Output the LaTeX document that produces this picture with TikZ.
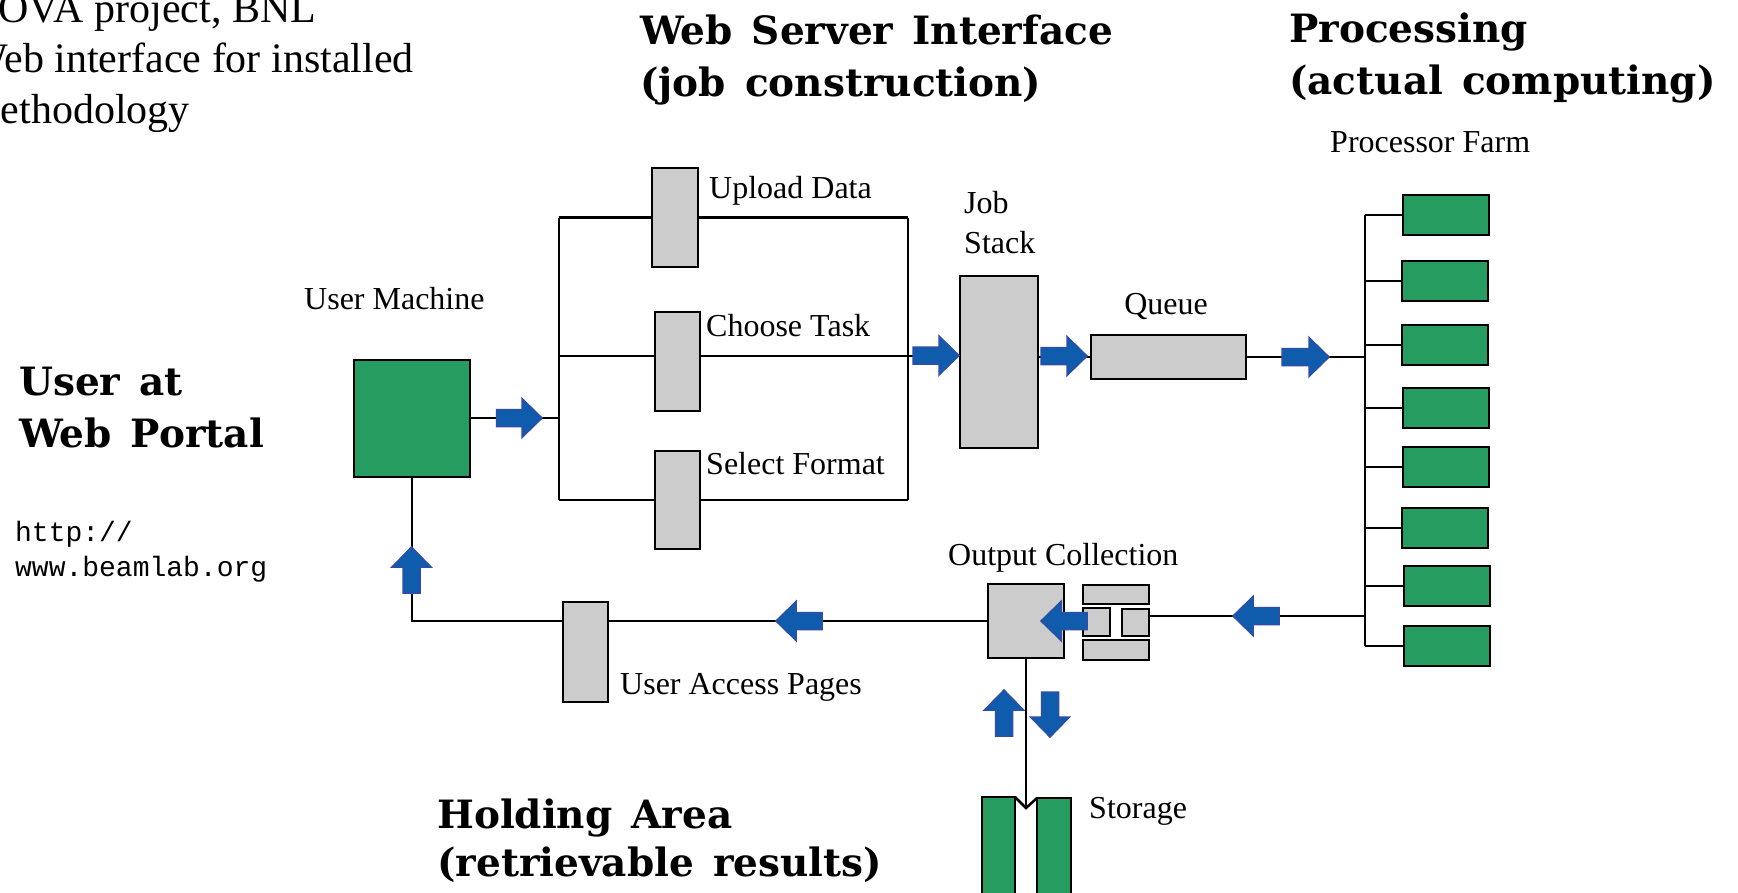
\documentclass[tikz,border=0pt]{standalone}
\usepackage{fontspec}
\setmainfont{Liberation Serif}
\newfontfamily\headfont{DejaVu Serif}[WordSpace=1.4]
\newfontfamily\mymono{Liberation Mono}
\definecolor{arblue}{HTML}{0E5CAB}
\definecolor{aredge}{HTML}{2E4EA8}
\definecolor{boxgreen}{HTML}{279C61}
\definecolor{boxgray}{HTML}{CCCCCC}
\tikzset{
  lbl/.style={inner sep=0, anchor=base west, font=\fontsize{32}{38}\selectfont},
  head/.style={inner sep=0, anchor=base west, font=\headfont\bfseries\fontsize{39}{47}\selectfont},
  toptxt/.style={inner sep=0, anchor=base west, font=\fontsize{42}{50}\selectfont},
  urltxt/.style={inner sep=0, anchor=base west, font=\mymono\fontsize{28}{34}\selectfont},
  graybox/.style={draw, fill=boxgray, line width=2.6, inner sep=0, outer sep=0},
  greenbox/.style={draw, fill=boxgreen, line width=2.6, inner sep=0, outer sep=0},
  conn/.style={line width=2.5},
  barrowst/.style={fill=arblue, draw=aredge, line width=1.5, line join=miter}
}
\newcommand\mkbox[6]{\node[#1, minimum width={(#4)-(#2)}, minimum height={(#5)-(#3)}] (#6) at ({((#2)+(#4))/2},{((#3)+(#5))/2}) {};}
\newcommand\hbarrow[3]{%
  \pgfmathsetmacro\hbhead{#2-20*sign(#2-#1)}%
  \draw[barrowst] (#1,#3-8.5) -- (\hbhead,#3-8.5) -- (\hbhead,#3-19.5) -- (#2,#3) -- (\hbhead,#3+19.5) -- (\hbhead,#3+8.5) -- (#1,#3+8.5) -- cycle;}
\newcommand\vbarrow[3]{%
  \pgfmathsetmacro\vbhead{#3-20*sign(#3-#2)}%
  \draw[barrowst] (#1-8.5,#2) -- (#1-8.5,\vbhead) -- (#1-19.5,\vbhead) -- (#1,#3) -- (#1+19.5,\vbhead) -- (#1+8.5,\vbhead) -- (#1+8.5,#2) -- cycle;}
\begin{document}
\begin{tikzpicture}[x=1pt,y=-1pt]
\useasboundingbox[fill=white] (0,0) rectangle (1738,892);

% ---- texts ----
\node[toptxt] (t1) at (-32,22) {NOVA project, BNL};
\node[toptxt] (t2) at (-32,72) {Web interface for installed};
\node[toptxt] (t3) at (-32,123) {methodology};

\node[head] (h1a) at (640,44) {Web Server Interface};
\node[head] (h1b) at (640,96) {(job construction)};
\node[head] (h2a) at (1289,42) {Processing};
\node[head] (h2b) at (1289,94) {(actual computing)};
\node[head] (h3a) at (19,395) {User at};
\node[head] (h3b) at (19,447) {Web Portal};
\node[head] (h4a) at (437,828) {Holding Area};
\node[head] (h4b) at (437,876) {(retrievable results)};

\node[urltxt] (u1) at (15,541) {http://};
\node[urltxt] (u2) at (15,576) {www.beamlab.org};

\node[lbl] (lUM) at (304,309) {User Machine};
\node[lbl] (lUD) at (709,198) {Upload Data};
\node[lbl] (lCT) at (706,336) {Choose Task};
\node[lbl] (lSF) at (706,474) {Select Format};
\node[lbl] (lJ1) at (964,213) {Job};
\node[lbl] (lJ2) at (964,253) {Stack};
\node[lbl, anchor=base] (lQ) at (1166,314) {Queue};
\node[lbl] (lPF) at (1330,152) {Processor Farm};
\node[lbl] (lOC) at (948,565) {Output Collection};
\node[lbl] (lUAP) at (620,694) {User Access Pages};
\node[lbl] (lST) at (1089,818) {Storage};

\coordinate (J) at (559,418);
\coordinate (R) at (908,356);
\coordinate (B) at (1365,357);
\coordinate (B2) at (1365,616);
\coordinate (SV) at (1026,808);

% ---- boxes ----
\mkbox{greenbox}{354}{360}{470}{477}{UM}
\mkbox{graybox}{960}{276}{1038}{448}{JS}
\mkbox{graybox}{1091}{335}{1246}{379}{Q}
\mkbox{greenbox}{1403}{195}{1489}{235}{F1}
\mkbox{greenbox}{1402}{261}{1488}{301}{F2}
\mkbox{greenbox}{1402}{325}{1488}{365}{F3}
\mkbox{greenbox}{1403}{388}{1489}{428}{F4}
\mkbox{greenbox}{1403}{447}{1489}{487}{F5}
\mkbox{greenbox}{1402}{508}{1488}{548}{F6}
\mkbox{greenbox}{1404}{566}{1490}{606}{F7}
\mkbox{greenbox}{1404}{626}{1490}{666}{F8}
\mkbox{graybox}{988}{584}{1064}{658}{OC}
\mkbox{graybox}{1083}{585}{1149}{604}{CTop}
\mkbox{graybox}{1083}{608}{1110}{636}{CML}
\mkbox{graybox}{1122}{609}{1149}{636}{CMR}
\mkbox{graybox}{1083}{640}{1149}{660}{CBot}
\mkbox{greenbox}{982}{797}{1015}{905}{SL}
\mkbox{greenbox}{1037}{798}{1071}{905}{SR}
% boxes sitting on the lines: geometry first (drawn after the lines)
\path (675,217.5) coordinate (UDc) (677.5,361.5) coordinate (CTc) (677.5,500) coordinate (SFc) (585.5,652) coordinate (UAPc);

% ---- connectors ----
\draw[conn] (UM.east |- J) -- (J);
\draw[conn] (J |- UDc) -- (J |- SFc);
\draw[conn] (J |- UDc) -- (UDc);
\draw[conn] (J |- R) -- (CTc |- R);
\draw[conn] (J |- SFc) -- (SFc);
\draw[conn] (UDc) -- (R |- UDc);
\draw[conn] (CTc |- R) -- (R);
\draw[conn] (SFc) -- (R |- SFc);
\draw[conn] (R |- UDc) -- (R |- SFc);
\draw[conn] (R) -- (JS.west |- R);
\draw[conn] (JS.east |- Q.west) -- (Q.west);
\draw[conn] (Q.east) -- (B);
\draw[conn] (B |- F1.west) -- (B |- F8.west);
\foreach \f in {F1,F2,F3,F4,F5,F6,F7,F8} {\draw[conn] (B |- \f.west) -- (\f.west);}
\draw[conn] (B2) -- (CMR.east |- B2);
\draw[conn] (OC.west) -- (UAPc |- OC.west);
\draw[conn] (UAPc |- OC.west) -- (UM.south |- OC.west) -- (UM.south);
\draw[conn] (OC.south) -- (SV);
\draw[conn, line join=miter] (SL.north east) -- (SV) -- (SR.north west);

% boxes over the lines
\mkbox{graybox}{652}{168}{698}{267}{UD}
\mkbox{graybox}{655}{312}{700}{411}{CT}
\mkbox{graybox}{655}{451}{700}{549}{SF}
\mkbox{graybox}{563}{602}{608}{702}{UAP}

% ---- block arrows ----
\hbarrow{496.5}{542}{418}
\hbarrow{913}{959}{355.5}
\hbarrow{1041}{1087}{356}
\hbarrow{1282}{1329}{357}
\hbarrow{1279}{1233}{616}
\hbarrow{1087}{1041}{621}
\hbarrow{822}{776}{621}
\vbarrow{411.5}{593}{547}
\vbarrow{1004}{736}{690}
\vbarrow{1050}{692}{737}
\end{tikzpicture}
\end{document}
